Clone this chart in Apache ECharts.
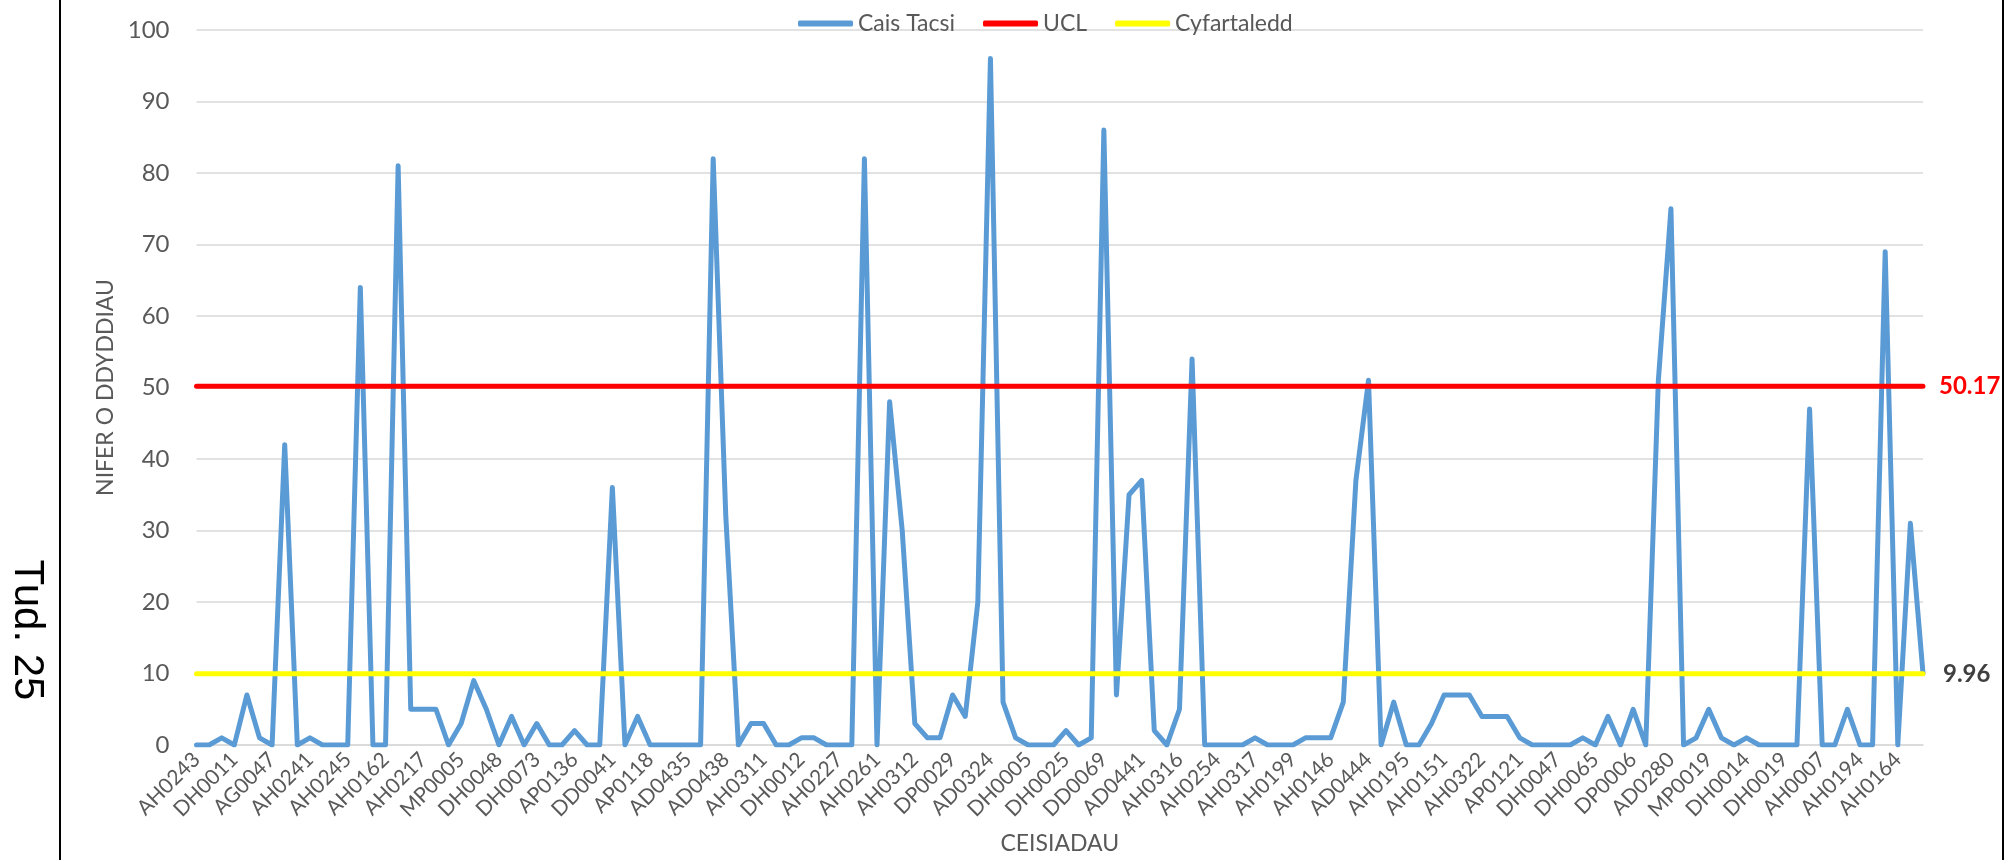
<!DOCTYPE html>
<html>
<head>
<meta charset="utf-8">
<script src="https://cdn.jsdelivr.net/npm/echarts@6/dist/echarts.min.js"></script>
<style>
html,body{margin:0;padding:0;background:#ffffff;}
#c{width:2016px;height:860px;}
</style>
</head>
<body>
<div id="c"></div>
<script>
// Category labels shown on the x axis (every third case is labelled)
const tickLabels = ['AH0243','DH0011','AG0047','AH0241','AH0245','AH0162','AH0217','MP0005','DH0048','DH0073',
  'AP0136','DD0041','AP0118','AD0435','AD0438','AH0311','DH0012','AH0227','AH0261','AH0312',
  'DP0029','AD0324','DH0005','DH0025','DD0069','AD0441','AH0316','AH0254','AH0317','AH0199',
  'AH0146','AD0444','AH0195','AH0151','AH0322','AP0121','DH0047','DH0065','DP0006','AD0280',
  'MP0019','DH0014','DH0019','AH0007','AH0194','AH0164'];

// Cais Tacsi: number of days per case (138 cases)
const taxiValues = [
  0,0,1,0,7,1,0,42,0,1,0,0,0,64,0,0,81,5,5,5,0,3,9,
  5,0,4,0,3,0,0,2,0,0,36,0,4,0,0,0,0,0,82,32,0,3,3,
  0,0,1,1,0,0,0,82,0,48,30,3,1,1,7,4,20,96,6,1,0,0,0,
  2,0,1,86,7,35,37,2,0,5,54,0,0,0,0,1,0,0,0,1,1,1,6,
  37,51,0,6,0,0,3,7,7,7,4,4,4,1,0,0,0,0,1,0,4,0,5,
  0,51,75,0,1,5,1,0,1,0,0,0,0,47,0,0,5,0,0,69,0,31,10
];

const UCL = 50.17;
const MEAN = 9.96;
const yMin = 0, yMax = 100, yInterval = 10;

// each labelled case is followed by two unlabelled cases
const categories = [];
tickLabels.forEach(function (n) { categories.push(n, '', ''); });

const uclValues = categories.map(function () { return UCL; });
const meanValues = categories.map(function () { return MEAN; });

const FONT = 'Lato';
const GREY = '#595959';

const chart = echarts.init(document.getElementById('c'), null, {renderer: 'canvas'});
chart.setOption({
  animation: false,
  backgroundColor: '#ffffff',
  textStyle: {fontFamily: FONT},
  grid: {left: 196.5, right: 93, top: 30, bottom: 113.5, containLabel: false},
  legend: {
    top: 7, left: 793,
    icon: 'roundRect',
    itemWidth: 55, itemHeight: 6, itemGap: 28,
    textStyle: {fontSize: 23, color: GREY, fontFamily: FONT},
    data: ['Cais Tacsi', 'UCL', 'Cyfartaledd']
  },
  xAxis: {
    type: 'category',
    data: categories,
    boundaryGap: false,
    name: 'CEISIADAU',
    nameLocation: 'middle',
    nameGap: 87,
    nameTextStyle: {fontSize: 23, color: GREY, fontFamily: FONT},
    axisLine: {show: true, lineStyle: {color: '#D9D9D9', width: 1.5}},
    axisTick: {show: false},
    axisLabel: {interval: 2, rotate: 45, fontSize: 21, color: GREY, margin: 11, fontFamily: FONT},
    splitLine: {show: false}
  },
  yAxis: {
    type: 'value',
    min: yMin, max: yMax, interval: yInterval,
    name: 'NIFER O DDYDDIAU',
    nameLocation: 'middle',
    nameGap: 68,
    nameRotate: 90,
    nameTextStyle: {fontSize: 23, color: GREY, fontFamily: FONT},
    axisLine: {show: false},
    axisTick: {show: false},
    axisLabel: {fontSize: 24, color: GREY, margin: 27, fontFamily: FONT},
    splitLine: {lineStyle: {color: '#D9D9D9', width: 1.5}}
  },
  series: [
    {
      name: 'Cais Tacsi', type: 'line', data: taxiValues, symbol: 'none',
      color: '#5B9BD5',
      lineStyle: {width: 5, color: '#5B9BD5', cap: 'round', join: 'round'},
      emphasis: {disabled: true}
    },
    {
      name: 'UCL', type: 'line', data: uclValues, symbol: 'none',
      color: '#FF0000',
      lineStyle: {width: 5, color: '#FF0000', cap: 'round'},
      emphasis: {disabled: true},
      endLabel: {show: true, formatter: String(UCL), color: '#FF0000', fontWeight: 'bold',
        fontSize: 24, fontFamily: FONT, distance: 16}
    },
    {
      name: 'Cyfartaledd', type: 'line', data: meanValues, symbol: 'none',
      color: '#FFFF00',
      lineStyle: {width: 5, color: '#FFFF00', cap: 'round'},
      emphasis: {disabled: true},
      endLabel: {show: true, formatter: String(MEAN), color: '#404040', fontWeight: 'bold',
        fontSize: 24, fontFamily: FONT, distance: 20}
    }
  ],
  graphic: [
    {type: 'line', shape: {x1: 60, y1: 0, x2: 60, y2: 860}, style: {stroke: '#000000', lineWidth: 2}},
    {type: 'line', shape: {x1: 2003, y1: 0, x2: 2003, y2: 860}, style: {stroke: '#000000', lineWidth: 2}},
    {type: 'text', x: 27, y: 630, rotation: -Math.PI / 2,
      style: {text: 'Tud. 25', font: '42px "Liberation Sans"', fill: '#000000',
        textAlign: 'center', textVerticalAlign: 'middle', align: 'center', verticalAlign: 'middle'}}
  ]
});
</script>
</body>
</html>
